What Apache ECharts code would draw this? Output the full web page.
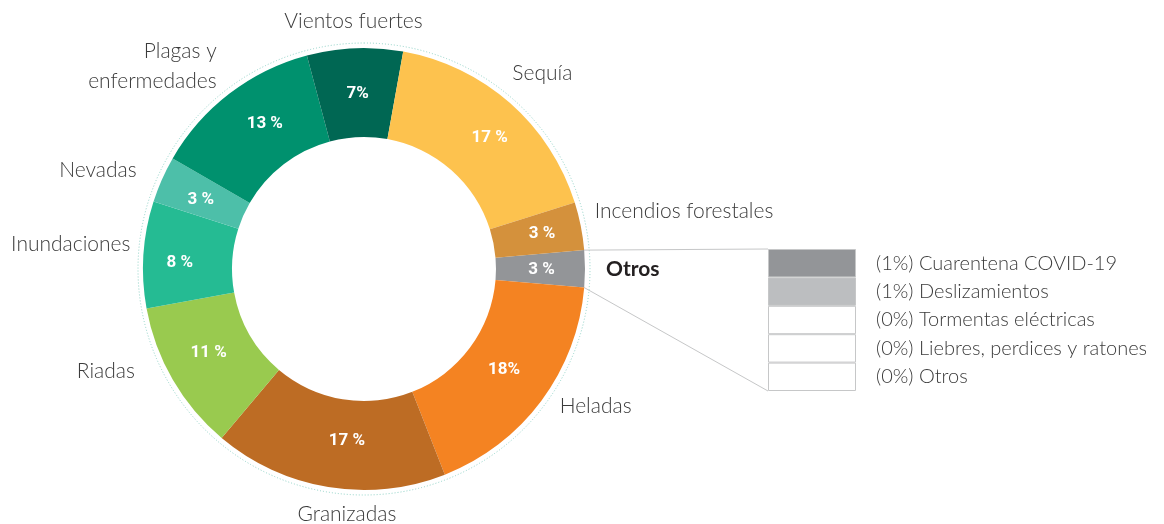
<!DOCTYPE html>
<html><head><meta charset="utf-8">
<script src="https://cdn.jsdelivr.net/npm/echarts@6/dist/echarts.min.js"></script>
<style>html,body{margin:0;padding:0;background:#fff}#c{width:1164px;height:524px}</style>
</head><body><div id="c"></div>
<script>
// ---- data ----
const categories = ['Otros','Heladas','Granizadas','Riadas','Inundaciones','Nevadas','Plagas y\nenfermedades','Vientos fuertes','Sequía','Incendios forestales'];
const values = [2.7, 17.7, 17.1, 11.0, 7.8, 3.4, 12.5, 7.0, 17.3, 3.5];
const pctLabels = ['3 %','18%','17 %','11 %','8 %','3 %','13 %','7%','17 %','3 %'];
const otrosCategories = ['(1%) Cuarentena COVID-19','(1%) Deslizamientos','(0%) Tormentas eléctricas','(0%) Liebres, perdices y ratones','(0%) Otros'];
const otrosShares = [1, 1, 0, 0, 0];

// ---- styles / layout ----
const sliceColors = ['#939598','#f48322','#bd6c24','#99ca4f','#25bb93','#4dbfa9','#00916e','#006753','#fdc24e','#d4913c'];
const cellColors = ['#939598','#bcbec0','#ffffff','#ffffff','#ffffff'];
const CX = 364, CY = 269, R0 = 132, R1 = 221;
const START = 4.9;
const labelAdj = [
  {dx: 8, dy: 0}, {dx: 7, dy: 0}, {dx: 25, dy: 19, align: 'center'}, {dx: -26, dy: -13},
  {dx: 0, dy: -10}, {dx: -13, dy: -6}, {dx: -3, dy: -21}, {dx: 4, dy: -19, align: 'center'},
  {dx: -8, dy: -24}, {dx: 1, dy: -13}
];
const pctAdj = [
  {dx: -2, dy: 1}, {dx: -4, dy: -6}, {dx: 12, dy: -5}, {dx: 0, dy: -6}, {dx: -5, dy: 5},
  {dx: 1, dy: 3}, {dx: 10, dy: -3}, {dx: 1, dy: 4}, {dx: 7, dy: 3}, {dx: 2, dy: 0}
];
const GRID = {left: 768, top: 249, width: 88, height: 142};
const nameFont = 'Lato';
const pctFont = 'Roboto, "Liberation Sans", sans-serif';

const chart = echarts.init(document.getElementById('c'));
const ringData = categories.map((n, i) => ({name: n, value: values[i], itemStyle: {color: sliceColors[i]}}));
const nameData = categories.map((n, i) => ({
  name: n, value: values[i],
  label: n === 'Otros' ? {fontWeight: 700, color: '#231f20', fontSize: 21} : {}
}));

// connector lines computed from the Otros slice angles
const total = values.reduce((a, b) => a + b, 0);
const a1 = START * Math.PI / 180;
const a2 = (START - values[0] / total * 360) * Math.PI / 180;
const p1 = [CX + R1 * Math.cos(a1), CY - R1 * Math.sin(a1)];
const p2 = [CX + R1 * Math.cos(a2), CY - R1 * Math.sin(a2)];

chart.setOption({
  animation: false,
  backgroundColor: '#ffffff',
  graphic: [
    {type: 'line', z: 1, shape: {x1: p1[0], y1: p1[1], x2: GRID.left, y2: GRID.top}, style: {stroke: '#c6c7c8', lineWidth: 1}},
    {type: 'line', z: 1, shape: {x1: p2[0], y1: p2[1], x2: GRID.left, y2: GRID.top + GRID.height}, style: {stroke: '#c6c7c8', lineWidth: 1}}
  ],
  grid: {left: GRID.left, top: GRID.top, width: GRID.width, height: GRID.height},
  xAxis: {type: 'value', min: 0, max: 1, show: false},
  yAxis: {
    type: 'category', inverse: true, position: 'right', data: otrosCategories,
    axisLine: {show: false}, axisTick: {show: false},
    axisLabel: {margin: 20, fontFamily: nameFont, fontWeight: 300, fontSize: 20, color: '#3b3b3b', align: 'left'}
  },
  series: [
    {
      type: 'pie', silent: true, z: 0, center: [CX, CY], radius: [0, 226],
      label: {show: false}, labelLine: {show: false},
      itemStyle: {color: 'rgba(0,0,0,0)', borderColor: '#8fd3c7', borderWidth: 1, borderType: [1, 2]},
      data: [{value: 1, name: 'ring'}]
    },
    {
      type: 'pie', silent: true, z: 2, center: [CX, CY], radius: [R0, R1], startAngle: START,
      data: ringData,
      label: {
        show: true, position: 'inside', color: '#ffffff',
        fontFamily: pctFont, fontWeight: 'bold', fontSize: 17,
        formatter: p => pctLabels[p.dataIndex]
      },
      labelLine: {show: false},
      labelLayout: p => pctAdj[p.dataIndex]
    },
    {
      type: 'pie', silent: true, z: 3, center: [CX, CY], radius: [R0, R1], startAngle: START,
      avoidLabelOverlap: false,
      itemStyle: {color: 'rgba(0,0,0,0)'},
      data: nameData,
      label: {
        show: true, position: 'outside', color: '#3b3b3b', fontFamily: nameFont, fontWeight: 300,
        fontSize: 21, lineHeight: 30, distanceToLabelLine: 5
      },
      labelLine: {show: false, length: 8, length2: 0},
      labelLayout: p => labelAdj[p.dataIndex]
    },
    {
      type: 'bar', silent: true, barCategoryGap: '0%', barWidth: '100%',
      data: otrosShares.map((s, i) => ({value: 1, share: s, itemStyle: {color: cellColors[i]}})),
      itemStyle: {borderColor: '#c6c7c8', borderWidth: 1}
    }
  ]
});
</script></body></html>
